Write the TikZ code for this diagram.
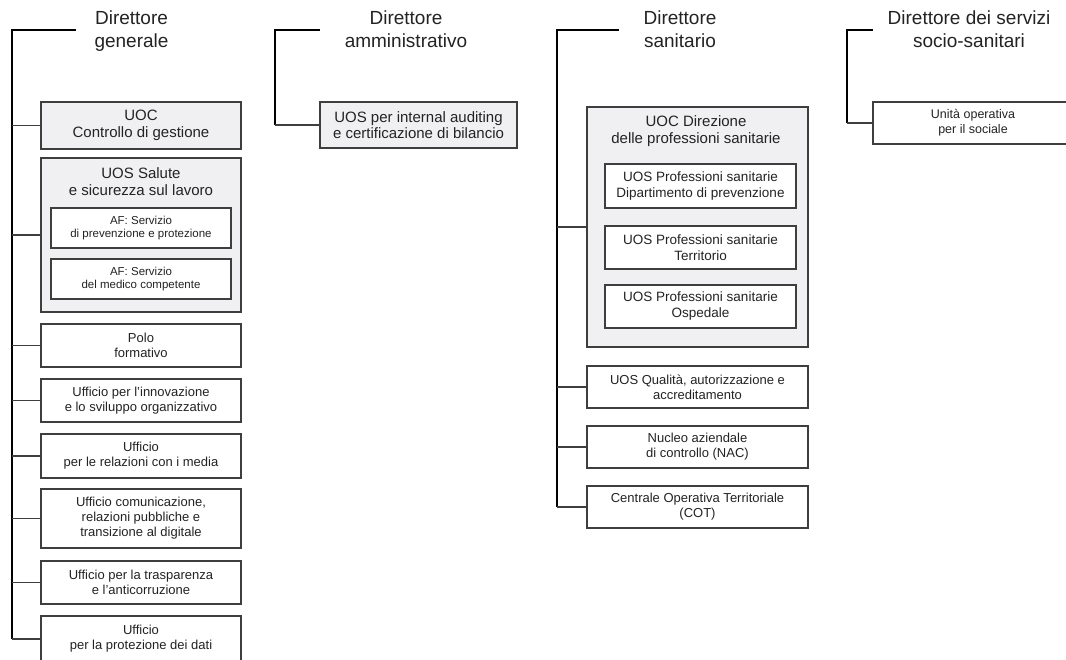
\documentclass[tikz,border=0pt]{standalone}
\usepackage{fontspec}
\setmainfont{Liberation Sans}
\definecolor{boxgray}{RGB}{240,240,242}
\definecolor{ink}{RGB}{35,35,35}
\definecolor{edge}{RGB}{62,62,62}

\tikzset{
  unit/.style={draw=edge, line width=1.2pt, fill=white, inner sep=0pt,
    align=center, text=ink, font=\fontsize{13}{15}\selectfont},
  graybox/.style={unit, fill=boxgray, font=\fontsize{15}{16.5}\selectfont},
  subunit/.style={unit, font=\fontsize{11.5}{13.5}\selectfont},
  profunit/.style={unit, font=\fontsize{13.5}{16}\selectfont},
  % base anchor of a multi-line node sits on its last line
  boxtitle/.style={align=center, text=ink, inner sep=0pt, anchor=base,
    font=\fontsize{15}{16.5}\selectfont},
  head/.style={align=center, text=ink, inner sep=0pt, anchor=base,
    font=\fontsize{19}{22.5}\selectfont},
  trunk/.style={draw=black, line width=1.8pt},
  branch/.style={draw=edge, line width=1.1pt},
}

\begin{document}
\begin{tikzpicture}[x=1pt, y=-1pt]
\useasboundingbox (0,0) rectangle (1066,659);

% ---------- Direttore generale ----------
\node[head] (dg) at (131.5,47) {Direttore\\generale};
\coordinate (dgcorner) at (12,30);
\coordinate (dgstart) at (76,30);

\node[graybox, minimum width=200pt, minimum height=47pt] (uoc) at (141,125.5) {UOC\\Controllo di gestione};
\node[graybox, minimum width=200pt, minimum height=154pt] (sal) at (141,235) {};
\node[boxtitle] (saltitle) at (141,195) {UOS Salute\\e sicurezza sul lavoro};
\node[subunit, minimum width=180pt, minimum height=40pt] (af1) at (141,228) {AF: Servizio\\di prevenzione e protezione};
\node[subunit, minimum width=180pt, minimum height=40pt] (af2) at (141,279) {AF: Servizio\\del medico competente};
\node[unit, minimum width=200pt, minimum height=43pt] (polo) at (141,345.5) {Polo\\formativo};
\node[unit, minimum width=200pt, minimum height=43pt] (innov) at (141,400.5) {Ufficio per l'innovazione\\e lo sviluppo organizzativo};
\node[unit, minimum width=200pt, minimum height=44pt] (media) at (141,456) {Ufficio\\per le relazioni con i media};
\node[unit, minimum width=200pt, minimum height=59pt] (comun) at (141,518.5) {Ufficio comunicazione,\\relazioni pubbliche e\\transizione al digitale};
\node[unit, minimum width=200pt, minimum height=43pt] (trasp) at (141,582.5) {Ufficio per la trasparenza\\e l'anticorruzione};
\node[unit, minimum width=200pt, minimum height=46pt] (privacy) at (141,639) {Ufficio\\per la protezione dei dati};

\draw[trunk] (dgstart) -- (dgcorner) -- (dgcorner |- privacy.west);
\foreach \n in {uoc,sal,polo,innov,media,comun,trasp,privacy}
  \draw[branch] (dgcorner |- \n.west) -- (\n.west);

% ---------- Direttore amministrativo ----------
\node[head] (da) at (406,47) {Direttore\\amministrativo};
\coordinate (dacorner) at (275,30);
\coordinate (dastart) at (320,30);
\node[graybox, minimum width=197pt, minimum height=46pt] (audit) at (418.5,125) {UOS per internal auditing\\e certificazione di bilancio};
\draw[trunk] (dastart) -- (dacorner) -- (dacorner |- audit.west);
\draw[branch] (dacorner |- audit.west) -- (audit.west);

% ---------- Direttore sanitario ----------
\node[head] (ds) at (680,47) {Direttore\\sanitario};
\coordinate (dscorner) at (557,30);
\coordinate (dsstart) at (619,30);
\node[graybox, minimum width=221pt, minimum height=240pt] (dps) at (697.5,227) {};
\node[boxtitle] (dpstitle) at (696,143) {UOC Direzione\\delle professioni sanitarie};
\node[profunit, minimum width=191pt, minimum height=44pt] (prev) at (700.5,186) {UOS Professioni sanitarie\\Dipartimento di prevenzione};
\node[profunit, minimum width=191pt, minimum height=43pt] (terr) at (700.5,247.5) {UOS Professioni sanitarie\\Territorio};
\node[profunit, minimum width=191pt, minimum height=43pt] (osp) at (700.5,306.5) {UOS Professioni sanitarie\\Ospedale};
\node[unit, minimum width=221pt, minimum height=42pt] (qual) at (697.5,387) {UOS Qualità, autorizzazione e\\accreditamento};
\node[unit, minimum width=221pt, minimum height=42pt] (nac) at (697.5,447) {Nucleo aziendale\\di controllo (NAC)};
\node[unit, minimum width=221pt, minimum height=42pt] (cot) at (697.5,507) {Centrale Operativa Territoriale\\(COT)};
\draw[trunk] (dsstart) -- (dscorner) -- (dscorner |- cot.west);
\foreach \n in {dps,qual,nac,cot}
  \draw[branch] (dscorner |- \n.west) -- (\n.west);

% ---------- Direttore dei servizi socio-sanitari ----------
\node[head] (dss) at (969,47) {Direttore dei servizi\\socio-sanitari};
\coordinate (dsscorner) at (847,30);
\coordinate (dssstart) at (873,30);
\node[unit, minimum width=200pt, minimum height=42pt, font=\fontsize{12.5}{15}\selectfont] (soc) at (973,123)
  {Unità operativa\\per il sociale};
\draw[trunk] (dssstart) -- (dsscorner) -- (dsscorner |- soc.west);
\draw[branch] (dsscorner |- soc.west) -- (soc.west);
\end{tikzpicture}
\end{document}
